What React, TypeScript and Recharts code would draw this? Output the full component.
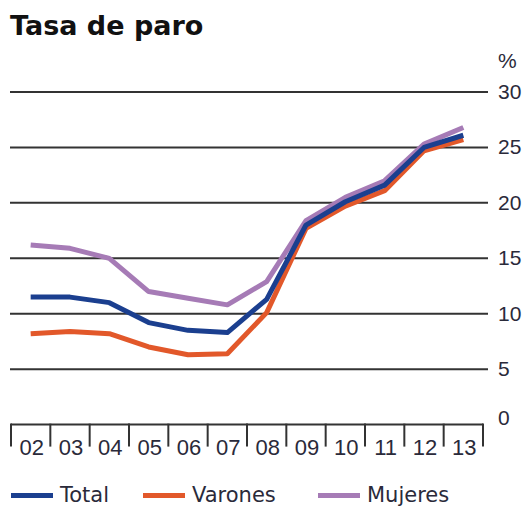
import { LineChart, Line, XAxis, YAxis, CartesianGrid } from 'recharts';

const years = ['02', '03', '04', '05', '06', '07', '08', '09', '10', '11', '12', '13'];
const total = [11.5, 11.5, 11.0, 9.2, 8.5, 8.3, 11.3, 18.0, 20.1, 21.6, 25.0, 26.1];
const varones = [8.2, 8.4, 8.2, 7.0, 6.3, 6.4, 10.1, 17.7, 19.7, 21.1, 24.7, 25.7];
const mujeres = [16.2, 15.9, 15.0, 12.0, 11.4, 10.8, 12.9, 18.4, 20.5, 22.0, 25.3, 26.8];
const yTicks = [0, 5, 10, 15, 20, 25, 30];
const gridValues = [5, 10, 15, 20, 25, 30];

const series = [
  { key: 'mujeres', name: 'Mujeres', color: '#a67bb6' },
  { key: 'varones', name: 'Varones', color: '#e2582a' },
  { key: 'total', name: 'Total', color: '#1b3f8f' },
];
const legendOrder = ['total', 'varones', 'mujeres'];
const legendLeft = [11, 143, 318];

const data = years.map((y, i) => ({ year: y, total: total[i], varones: varones[i], mujeres: mujeres[i] }));

// layout
const W = 528, H = 507;
const PLOT_L = 10, PLOT_R = 488;
const PAD_L = 1, PAD_R = 5;
const BAND = (PLOT_R - PLOT_L - PAD_L - PAD_R) / years.length;
const AXIS = '#333';

const XTick = (props: any) => {
  const { x, y, payload, index } = props;
  const x0 = x - BAND / 2, x1 = x + BAND / 2;
  const last = index === years.length - 1;
  return (
    <g>
      <line x1={x0} x2={x1} y1={y} y2={y} stroke={AXIS} strokeWidth={2} />
      <line x1={x0} x2={x0} y1={y - 1} y2={y + 22} stroke={AXIS} strokeWidth={2} />
      {last && <line x1={x1} x2={x1} y1={y - 1} y2={y + 22} stroke={AXIS} strokeWidth={2} />}
      <text x={x + 1} y={y + 30} textAnchor="middle" fill="#2a2a3a" fontSize={22} fontFamily="Liberation Sans, Arial, sans-serif">
        {payload.value}
      </text>
    </g>
  );
};

const YTick = (props: any) => {
  const { x, y, payload } = props;
  return (
    <text x={x} y={y + (payload.value === 0 ? -7 : 0)} dy={7} textAnchor="start" fill="#2a2a3a" fontSize={21} fontFamily="Liberation Sans, Arial, sans-serif">
      {payload.value}
    </text>
  );
};

export default function App() {
  return (
    <div style={{ position: 'absolute', left: 0, top: 0, width: W, height: H, background: '#fff' }}>
      <div style={{ position: 'absolute', left: 10, top: 12, fontFamily: 'DejaVu Sans, sans-serif', fontWeight: 'bold', fontSize: 27, lineHeight: '27px', color: '#111' }}>
        Tasa de paro
      </div>
      <div style={{ position: 'absolute', left: 498, top: 50, fontFamily: 'Liberation Sans, Arial, sans-serif', fontSize: 21, lineHeight: '21px', color: '#2a2a3a' }}>
        %
      </div>
      <LineChart width={W} height={H} data={data} margin={{ top: 92, right: 0, bottom: 52.4, left: PLOT_L }}>
        <CartesianGrid horizontal vertical={false} horizontalValues={gridValues} stroke={AXIS} strokeWidth={2} />
        <XAxis dataKey="year" scale="band" height={30} padding={{ left: PAD_L, right: PAD_R }} axisLine={false} tickLine={false}
          tickSize={0} tickMargin={0} interval={0} tick={<XTick />} />
        <YAxis orientation="right" width={W - PLOT_R} domain={[0, 30]} ticks={yTicks} axisLine={false} tickLine={false}
          tickSize={0} tickMargin={10} tick={<YTick />} />
        {series.map(s => (
          <Line key={s.key} type="linear" dataKey={s.key} name={s.name} stroke={s.color} strokeWidth={5}
            dot={false} activeDot={false} isAnimationActive={false} strokeLinejoin="round" />
        ))}
      </LineChart>
      {legendOrder.map((k, i) => {
        const s = series.find(v => v.key === k)!;
        return (
          <div key={k} style={{ position: 'absolute', left: legendLeft[i], top: 482, display: 'flex', alignItems: 'center', height: 26 }}>
            <div style={{ width: 42, height: 5, background: s.color, marginRight: 7 }} />
            <span style={{ fontFamily: 'DejaVu Sans, sans-serif', fontSize: 21, color: '#2a2a3a' }}>{s.name}</span>
          </div>
        );
      })}
    </div>
  );
}
